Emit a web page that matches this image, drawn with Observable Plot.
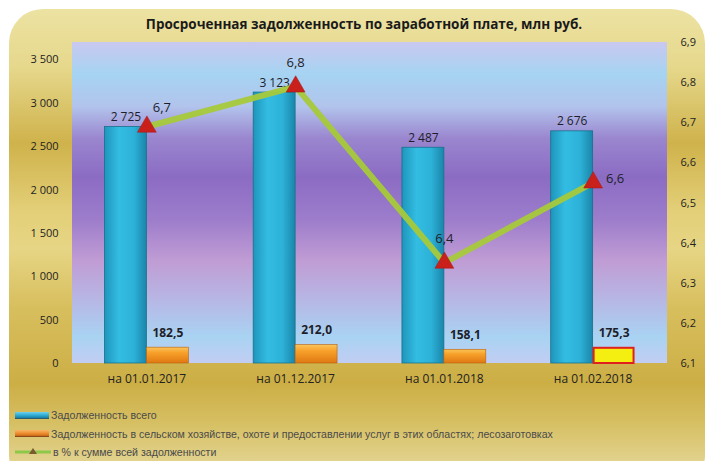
<!DOCTYPE html>
<html><head><meta charset="utf-8">
<script src="https://cdn.jsdelivr.net/npm/d3@7"></script>
<script src="https://cdn.jsdelivr.net/npm/@observablehq/plot@0.6"></script>
<style>
body{margin:0;background:#fff;}
#wrap{position:relative;width:710px;height:461px;overflow:hidden;background:#fff;font-family:"Open Sans",sans-serif;}
#gold{position:absolute;left:9px;top:9px;width:696px;height:480px;border-radius:34px;
 background:linear-gradient(180deg,#ece2a2 0%,#e6d88c 12%,#cfb24b 28%,#e3cf78 42%,#e6d584 50%,#d8bf5e 62%,#ccae45 78%,#d6bf62 86%,#e9dfaa 100%);}
#plotbg{position:absolute;left:72px;top:42px;width:595px;height:321px;
 background:linear-gradient(180deg,#c9c8f0 0%,#a6d4f2 10%,#b2c4ec 20%,#9a86cf 30%,#8b6cc3 42%,#9c7ccb 55%,#c09cd4 68%,#b7b6e4 80%,#a9d3f2 92%,#c2cdf3 100%);}
#title{position:absolute;top:15px;left:364px;transform:translateX(-50%);white-space:nowrap;font-weight:bold;font-size:13.5px;color:#1a1a1a;}
.svgl{position:absolute;left:0;top:0;}
#legend{position:absolute;left:15px;top:406px;font-family:"Liberation Sans",sans-serif;font-size:10.6px;color:#4a4a4a;}
.li{height:18.5px;display:flex;align-items:center;}
.sw{width:34px;height:8px;margin-right:2px;position:relative;}
</style></head>
<body>
<div id="wrap">
 <div id="gold"></div>
 <div id="plotbg"></div>
 <div id="title">Просроченная задолженность по заработной плате, млн руб.</div>
 <div id="legend"></div>
</div>
<script>
const categories = ["на 01.01.2017","на 01.12.2017","на 01.01.2018","на 01.02.2018"];
const totalDebt = [2725, 3123, 2487, 2676];
const agriDebt = [182.5, 212.0, 158.1, 175.3];
const sharePct = [6.69, 6.79, 6.351, 6.551];
const leftTicks = [0, 500, 1000, 1500, 2000, 2500, 3000, 3500];
const rightTicks = [6.1, 6.2, 6.3, 6.4, 6.5, 6.6, 6.7, 6.8, 6.9];
const seriesNames = ["Задолженность всего",
 "Задолженность в сельском хозяйстве, охоте и предоставлении услуг в этих областях; лесозаготовках",
 "в % к сумме всей задолженности"];

const loc = d3.formatLocale({decimal: ",", thousands: "\u00a0", grouping: [3], currency: ["", ""]});
const fmtInt = loc.format(",d");
const fmtDec = loc.format(",.1f");

const rows = [];
categories.forEach((c, i) => {
  rows.push({cat: c, s: "total", v: totalDebt[i], i});
  rows.push({cat: c, s: "agri", v: agriDebt[i], i});
});
const lineRows = categories.map((c, i) => ({cat: c, v: sharePct[i], i}));

const W = 710, H = 461, ML = 72, MR = 43, MT = 42, MB = 98;
const font = "'Open Sans', sans-serif";

const bars = Plot.plot({
  width: W, height: H, marginLeft: ML, marginRight: MR, marginTop: MT, marginBottom: MB,
  style: {fontFamily: font, background: "transparent", color: "#222"},
  fx: {domain: categories, padding: 0, round: false, label: null},
  x: {domain: ["total", "agri"], paddingInner: 0, paddingOuter: 0.774, round: false, axis: null},
  y: {domain: [0, 3700], label: null},
  marks: [
    Plot.axisY({ticks: leftTicks, tickFormat: fmtInt, tickSize: 0, tickPadding: 14, fontSize: 11, label: null}),
    Plot.axisFx({anchor: "bottom", tickSize: 0, tickPadding: 11, fontSize: 12, label: null}),
    Plot.barY(rows.filter(d => d.s === "total"), {fx: "cat", x: "s", y: "v", fill: "url(#gBlue)", stroke: "#17708c", strokeWidth: 0.8}),
    Plot.barY(rows.filter(d => d.s === "agri" && d.i < 3), {fx: "cat", x: "s", y: "v", fill: "url(#gOrange)", stroke: "#b8600c", strokeWidth: 0.6}),
    Plot.barY(rows.filter(d => d.s === "agri" && d.i === 3), {fx: "cat", x: "s", y: "v", fill: "#f4ef10", stroke: "#e0201c", strokeWidth: 2, insetLeft: 1, insetRight: 1}),
    Plot.text(rows.filter(d => d.s === "total"), {fx: "cat", x: "s", y: "v", text: d => fmtInt(d.v), lineAnchor: "bottom", dy: -6, fontSize: 12, fill: "#1e1e2a"}),
    Plot.text(rows.filter(d => d.s === "agri"), {fx: "cat", x: "s", y: "v", text: d => fmtDec(d.v), lineAnchor: "bottom", dy: -11, fontSize: 12, fontWeight: "bold", fill: "#1e1e2a"})
  ]
});
const defs = document.createElementNS("http://www.w3.org/2000/svg", "defs");
defs.innerHTML = `
<linearGradient id="gBlue" x1="0" x2="1" y1="0" y2="0">
 <stop offset="0" stop-color="#1f95bb"/><stop offset="0.35" stop-color="#33bde3"/>
 <stop offset="0.7" stop-color="#2db1d8"/><stop offset="1" stop-color="#1a86aa"/></linearGradient>
<linearGradient id="gOrange" x1="0" x2="0" y1="0" y2="1">
 <stop offset="0" stop-color="#fcc55a"/><stop offset="0.35" stop-color="#f7a02a"/>
 <stop offset="1" stop-color="#e07812"/></linearGradient>`;
bars.insertBefore(defs, bars.firstChild);
bars.classList.add("svgl");
document.getElementById("wrap").appendChild(bars);

const line = Plot.plot({
  width: W, height: H, marginLeft: ML, marginRight: MR, marginTop: MT, marginBottom: MB,
  style: {fontFamily: font, background: "transparent", color: "#222"},
  x: {type: "point", domain: categories, padding: 0.5, round: false, axis: null},
  y: {domain: [6.1, 6.9], label: null},
  marks: [
    Plot.axisY({anchor: "right", ticks: rightTicks, tickFormat: d => fmtDec(d), tickSize: 0, tickPadding: 13, fontSize: 11, label: null}),
    Plot.line(lineRows, {x: "cat", y: "v", stroke: "#a6c93a", strokeWidth: 6, strokeOpacity: 0.95}),
    Plot.dot(lineRows, {x: "cat", y: "v", symbol: "triangle", r: 7, fill: "#c9201c", stroke: "#a01818", strokeWidth: 0.5}),
    Plot.text(lineRows.filter(d => d.i === 0), {x: "cat", y: "v", text: d => fmtDec(d.v), dx: 15, dy: -19, fontSize: 13, fill: "#1e1e2a"}),
    Plot.text(lineRows.filter(d => d.i === 1 || d.i === 2), {x: "cat", y: "v", text: d => fmtDec(d.v), dy: -24, fontSize: 13, fill: "#1e1e2a"}),
    Plot.text(lineRows.filter(d => d.i === 3), {x: "cat", y: "v", text: d => fmtDec(d.v), dx: 22, dy: -4, fontSize: 13, fill: "#1e1e2a"})
  ]
});
line.classList.add("svgl");
document.getElementById("wrap").appendChild(line);

// legend
const swatches = [
  `<div class="sw" style="height:6px;background:linear-gradient(180deg,#6fd0ee,#2aa6cf 60%,#1a7ea0);border-bottom:1px solid #2a5f70"></div>`,
  `<div class="sw" style="height:6px;background:linear-gradient(180deg,#f8b766,#ec8a2a 60%,#c8681a);border-bottom:1px solid #8a4a1a"></div>`,
  `<svg width="36" height="10" style="margin-right:2px"><line x1="0" y1="5" x2="36" y2="5" stroke="#8ec84a" stroke-width="3"/><path d="M18,1 L22,7 L14,7 Z" fill="#7a5a30"/></svg>`
];
const leg = document.getElementById("legend");
seriesNames.forEach((n, i) => {
  const d = document.createElement("div");
  d.className = "li";
  d.innerHTML = swatches[i] + `<span>${n}</span>`;
  leg.appendChild(d);
});
</script>
</body></html>
